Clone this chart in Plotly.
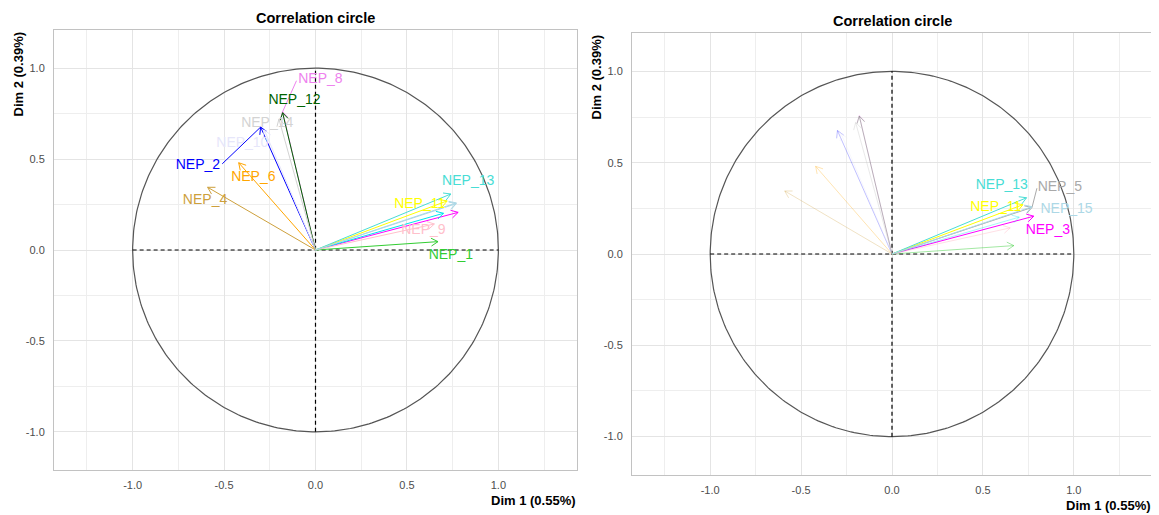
import numpy as np
import plotly.graph_objects as go

# page has an 8px body margin: figure is sized/positioned to compensate
OFF = 8
W, H = 1159 - OFF, 515 - OFF

variables = ["NEP_1", "NEP_2", "NEP_3", "NEP_4", "NEP_5", "NEP_6", "NEP_7", "NEP_8",
             "NEP_9", "NEP_10", "NEP_11", "NEP_12", "NEP_13", "NEP_14", "NEP_15"]
dim1 = [0.67, -0.30, 0.78, -0.59, 0.77, -0.42, 0.70, -0.18, 0.65, -0.28, 0.72, -0.18, 0.74, -0.20, 0.77]
dim2 = [0.046, 0.676, 0.207, 0.345, 0.255, 0.48, 0.202, 0.76, 0.143, 0.66, 0.27, 0.755, 0.308, 0.72, 0.259]

left_colors = ["#32CD32", "#0000FF", "#FF00FF", "#CDA03C", "#ADD8E6", "#FFA500", "#00E5EE", "#EE82EE",
               "#FFC0CB", "#E6E6FA", "#FFFF00", "#006400", "#48DDD5", "#D3D3D3", "#ADD8E6"]
right_colors = ["rgba(50,205,50,0.45)", "rgba(0,0,255,0.25)", "#FF00FF", "rgba(205,160,60,0.3)",
                "#A9A9A9", "rgba(255,165,0,0.3)", "rgba(0,229,238,0.35)", "rgba(238,130,238,0.2)",
                "rgba(255,192,203,0.5)", "rgba(230,230,250,0.3)", "#FFFF00", "rgba(128,128,128,0.55)",
                "#48DDD5", "rgba(200,200,200,0.4)", "#ADD8E6"]

# label placement (left panel)
left_labels = ["NEP_8", "NEP_12", "NEP_14", "NEP_10", "NEP_2", "NEP_6", "NEP_4",
               "NEP_13", "NEP_11", "NEP_9", "NEP_1"]
left_lab_x = [0.027, -0.115, -0.264, -0.40, -0.643, -0.34, -0.604, 0.835, 0.57, 0.59, 0.74]
left_lab_y = [0.937, 0.82, 0.694, 0.584, 0.463, 0.40, 0.275, 0.375, 0.253, 0.105, -0.028]
left_seg = {"NEP_8": (-0.104, 0.931), "NEP_2": (-0.51, 0.474)}

right_labels = ["NEP_13", "NEP_5", "NEP_11", "NEP_15", "NEP_3"]
right_lab_x = [0.604, 0.923, 0.571, 0.96, 0.857]
right_lab_y = [0.377, 0.366, 0.257, 0.246, 0.126]
right_seg = {"NEP_5": (0.797, 0.36)}

tick_vals = [-1.0, -0.5, 0.0, 0.5, 1.0]
tick_text = ["-1.0", "-0.5", "0.0", "0.5", "1.0"]

FONT = "Liberation Sans, Arial, sans-serif"

# panel geometry (page pixels)
panels = [
    dict(x0=54, x1=577, y0=30, y1=470, colors=left_colors, labels=left_labels,
         lx=left_lab_x, ly=left_lab_y, seg=left_seg, xa="x", ya="y"),
    dict(x0=632, x1=1152, y0=33, y1=475, colors=right_colors, labels=right_labels,
         lx=right_lab_x, ly=right_lab_y, seg=right_seg, xa="x2", ya="y2"),
]

def px(x):
    return (x - OFF) / W

def py(y):
    return 1 - (y - OFF) / H

fig = go.Figure()
HEAD = 0.043
ANG = np.deg2rad(30)
theta = np.linspace(0, 2 * np.pi, 361)

for p in panels:
    # unit circle and dashed axes
    fig.add_trace(go.Scatter(x=np.cos(theta), y=np.sin(theta), mode="lines",
                             line=dict(color="#555555", width=1.2),
                             xaxis=p["xa"], yaxis=p["ya"], showlegend=False, hoverinfo="skip"))
    fig.add_trace(go.Scatter(x=[-1, 1, None, 0, 0], y=[0, 0, None, -1, 1], mode="lines",
                             line=dict(color="black", width=1.2, dash="4px,3px"),
                             xaxis=p["xa"], yaxis=p["ya"], showlegend=False, hoverinfo="skip"))
    for i, v in enumerate(variables):
        x, y = dim1[i], dim2[i]
        th = np.arctan2(y, x)
        hx1 = x - HEAD * np.cos(th - ANG)
        hy1 = y - HEAD * np.sin(th - ANG)
        hx2 = x - HEAD * np.cos(th + ANG)
        hy2 = y - HEAD * np.sin(th + ANG)
        xs = [0, x, None, hx1, x, hx2]
        ys = [0, y, None, hy1, y, hy2]
        if v in p["seg"]:
            sx, sy = p["seg"][v]
            xs += [None, x, sx]
            ys += [None, y, sy]
        fig.add_trace(go.Scatter(x=xs, y=ys, mode="lines",
                                 line=dict(color=p["colors"][i], width=1),
                                 xaxis=p["xa"], yaxis=p["ya"],
                                 showlegend=False, hoverinfo="skip"))
    lab_colors = [p["colors"][variables.index(l)] for l in p["labels"]]
    fig.add_trace(go.Scatter(x=p["lx"], y=p["ly"], mode="text", text=p["labels"],
                             textfont=dict(family=FONT, size=14, color=lab_colors),
                             textposition="middle center",
                             xaxis=p["xa"], yaxis=p["ya"],
                             showlegend=False, hoverinfo="skip"))

axis_common = dict(
    range=[-1.43, 1.43], tickvals=tick_vals, ticktext=tick_text,
    showgrid=True, gridcolor="#E4E4E4", gridwidth=1,
    minor=dict(dtick=0.25, tick0=0, showgrid=True, gridcolor="#EEEEEE", gridwidth=1),
    zeroline=False, showline=True, mirror=True, linecolor="#C2C2C2", linewidth=1,
    ticks="", tickfont=dict(family=FONT, size=11, color="#4D4D4D"),
)

annotations = []
for k, p in enumerate(panels):
    xd = [px(p["x0"]), px(p["x1"])]
    yd = [py(p["y1"]), py(p["y0"])]
    xname = "xaxis" if k == 0 else "xaxis2"
    yname = "yaxis" if k == 0 else "yaxis2"
    xa = dict(axis_common, domain=xd, anchor=p["ya"], ticklabelstandoff=5)
    ya = dict(axis_common, domain=yd, anchor=p["xa"], ticklabelstandoff=6)
    ya["range"] = [-1.21, 1.21]
    fig.update_layout(**{xname: xa, yname: ya})
    cx = px((p["x0"] + p["x1"]) / 2)
    annotations.append(dict(text="<b>Correlation circle</b>", xref="paper", yref="paper",
                            x=cx, y=py(p["y0"] - 12), xanchor="center", yanchor="middle",
                            showarrow=False, font=dict(family=FONT, size=14.5, color="black")))
    annotations.append(dict(text="<b>Dim 1 (0.55%)</b>", xref="paper", yref="paper",
                            x=px(p["x1"] + 1), y=py(p["y1"] + 30), xanchor="right", yanchor="middle",
                            showarrow=False, font=dict(family=FONT, size=13, color="black")))
    annotations.append(dict(text="<b>Dim 2 (0.39%)</b>", xref="paper", yref="paper",
                            x=px(p["x0"] - 36), y=py(p["y0"]), xanchor="center", yanchor="top",
                            textangle=-90, showarrow=False,
                            font=dict(family=FONT, size=13, color="black")))

fig.update_layout(
    width=W, height=H, margin=dict(l=0, r=0, t=0, b=0),
    paper_bgcolor="white", plot_bgcolor="white",
    annotations=annotations, showlegend=False,
)

fig.write_html("out.html")
